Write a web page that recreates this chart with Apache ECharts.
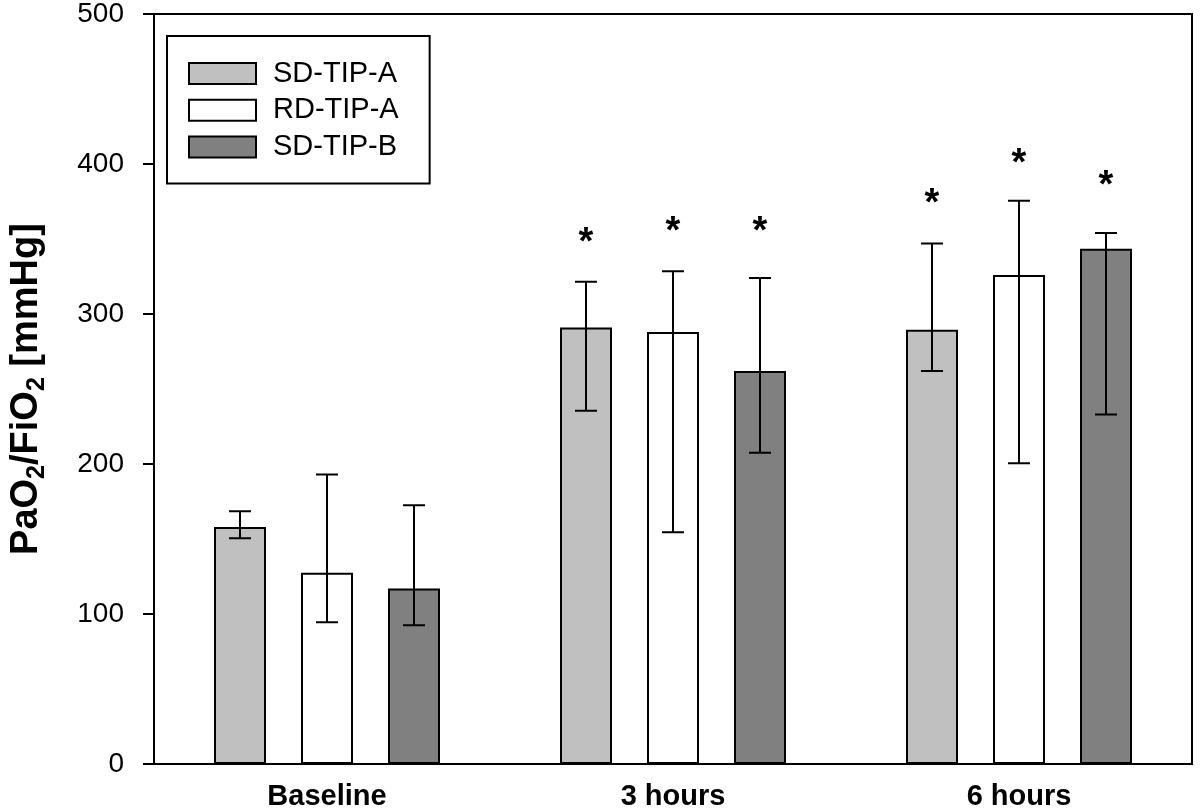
<!DOCTYPE html>
<html><head><meta charset="utf-8">
<script src="https://cdn.jsdelivr.net/npm/echarts@6/dist/echarts.min.js"></script>
<style>html,body{margin:0;padding:0;background:#fff}#c{width:1200px;height:811px}</style>
</head><body><div id="c"></div>
<script>
// ---- data ----
const categories = ['Baseline', '3 hours', '6 hours'];
const seriesNames = ['SD-TIP-A', 'RD-TIP-A', 'SD-TIP-B'];
const sdTipA = [158, 291, 289.5];
const rdTipA = [127.5, 288, 326];
const sdTipB = [117, 262, 343.5];
const sdTipALow = [150.5, 235.5, 262];
const sdTipAHigh = [168.5, 321.5, 347];
const rdTipALow = [94.5, 154.5, 200.5];
const rdTipAHigh = [193, 328.5, 375.5];
const sdTipBLow = [92.5, 207.5, 233];
const sdTipBHigh = [172.5, 324, 354];
const sdTipAStar = [null, 352, 378];
const rdTipAStar = [null, 359.5, 405];
const sdTipBStar = [null, 359.5, 390];
const yTicks = [0, 100, 200, 300, 400, 500];

// ---- styles ----
const FONT = '"Liberation Sans", Arial, Helvetica, sans-serif';
const colors = ['#c0c0c0', '#ffffff', '#808080'];
const BAR_W = 52, BAR_GAP_PX = 35;
const STEP = BAR_W + BAR_GAP_PX;
const offsets = [-STEP, 0, STEP];

const values = [sdTipA, rdTipA, sdTipB];
const lows = [sdTipALow, rdTipALow, sdTipBLow];
const highs = [sdTipAHigh, rdTipAHigh, sdTipBHigh];
const stars = [sdTipAStar, rdTipAStar, sdTipBStar];

function errRender(offset) {
  return function (params, api) {
    const c = api.value(0);
    const lo = api.coord([c, api.value(1)]);
    const hi = api.coord([c, api.value(2)]);
    const cx = lo[0] + offset;
    const cap = 11;
    const st = { stroke: '#000', lineWidth: 2 };
    return { type: 'group', children: [
      { type: 'line', shape: { x1: cx, y1: hi[1], x2: cx, y2: lo[1] }, style: st },
      { type: 'line', shape: { x1: cx - cap, y1: hi[1], x2: cx + cap, y2: hi[1] }, style: st },
      { type: 'line', shape: { x1: cx - cap, y1: lo[1], x2: cx + cap, y2: lo[1] }, style: st }
    ]};
  };
}
function starRender(offset) {
  return function (params, api) {
    const c = api.value(0);
    const p = api.coord([c, api.value(1)]);
    return { type: 'text', x: p[0] + offset, y: p[1] + 8,
      style: { text: '*', fontSize: 38, fontWeight: 'bold', fontFamily: FONT, fill: '#000',
        align: 'center', verticalAlign: 'middle' } };
  };
}

const series = [];
seriesNames.forEach((name, i) => {
  series.push({
    name: name, type: 'bar', data: values[i], barWidth: BAR_W,
    barGap: (BAR_GAP_PX / BAR_W * 100) + '%',
    itemStyle: { color: colors[i], borderColor: '#000', borderWidth: 2 },
    emphasis: { disabled: true }, z: 2
  });
});
seriesNames.forEach((name, i) => {
  series.push({
    type: 'custom', renderItem: errRender(offsets[i]), z: 5,
    data: categories.map((c, k) => [k, lows[i][k], highs[i][k]])
  });
  series.push({
    type: 'custom', renderItem: starRender(offsets[i]), z: 5,
    data: categories.map((c, k) => stars[i][k] == null ? null : [k, stars[i][k]]).filter(d => d)
  });
});

const chart = echarts.init(document.getElementById('c'), null, { renderer: 'canvas' });
chart.setOption({
  animation: false,
  backgroundColor: '#fff',
  grid: { left: 149, right: 8, top: 14, bottom: 46, show: true, borderColor: '#000', borderWidth: 2, backgroundColor: 'transparent' },
  legend: {
    orient: 'vertical', left: 167, top: 36, padding: [23, 31, 22, 21],
    itemWidth: 67, itemHeight: 21, itemGap: 7.7,
    borderColor: '#000', borderWidth: 2, backgroundColor: '#fff', borderRadius: 0,
    selectedMode: false, data: seriesNames, icon: 'rect',
    itemStyle: { borderColor: '#000', borderWidth: 2 },
    textStyle: { fontSize: 29, color: '#000', fontFamily: FONT, padding: [0, 0, 0, 12] }
  },
  xAxis: {
    type: 'category', data: categories,
    axisLine: { lineStyle: { color: '#000', width: 2 } },
    axisTick: { show: false },
    axisLabel: { fontSize: 29, fontWeight: 'bold', color: '#000', fontFamily: FONT, margin: 18 },
    splitLine: { show: false }
  },
  yAxis: {
    type: 'value', min: yTicks[0], max: yTicks[yTicks.length - 1], interval: 100,
    axisLine: { show: true, lineStyle: { color: '#000', width: 2 } },
    axisTick: { show: true, inside: false, length: 11, lineStyle: { color: '#000', width: 2 } },
    axisLabel: { fontSize: 28, color: '#000', fontFamily: FONT, margin: 30 },
    splitLine: { show: false },
    name: '{a|PaO}{s|2}{a|/FiO}{s|2}{a| [mmHg]}',
    nameLocation: 'middle', nameRotate: 90, nameGap: 104,
    nameTextStyle: {
      rich: {
        a: { fontSize: 38, fontWeight: 'bold', fontFamily: FONT, color: '#000', lineHeight: 46 },
        s: { fontSize: 25, fontWeight: 'bold', fontFamily: FONT, color: '#000', lineHeight: 32, verticalAlign: 'bottom' }
      }
    }
  },
  series: series
});
</script></body></html>
